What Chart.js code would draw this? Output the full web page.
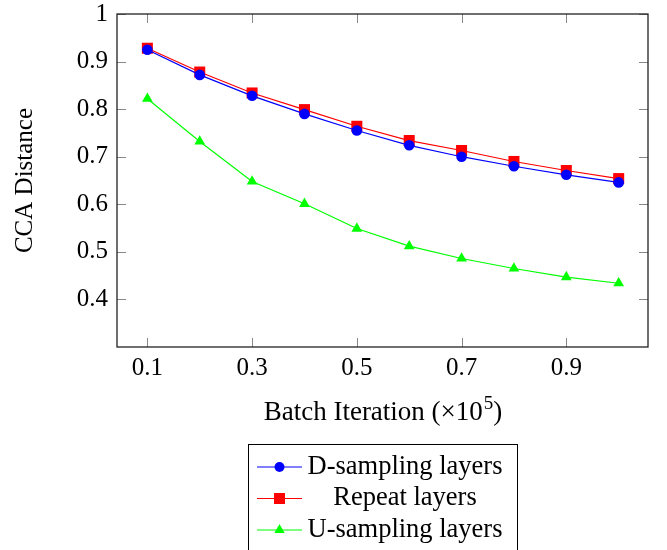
<!DOCTYPE html>
<html>
<head>
<meta charset="utf-8">
<script src="https://cdn.jsdelivr.net/npm/chart.js@4"></script>
<style>
  html, body { margin: 0; padding: 0; background: #fff; }
  #wrap { width: 667px; height: 550px; }
</style>
</head>
<body>
<div id="wrap"><canvas id="ccaChart" width="667" height="550"></canvas></div>
<script>
// Données
const xValues = [0.1, 0.2, 0.3, 0.4, 0.5, 0.6, 0.7, 0.8, 0.9, 1.0];
const dSampling = [0.925, 0.872, 0.828, 0.790, 0.755, 0.724, 0.700, 0.680, 0.662, 0.646];
const repeatLayers = [0.928, 0.878, 0.834, 0.799, 0.764, 0.734, 0.713, 0.690, 0.671, 0.654];
const uSampling = [0.822, 0.732, 0.648, 0.601, 0.549, 0.512, 0.486, 0.465, 0.447, 0.434];
const xTicks = [0.1, 0.3, 0.5, 0.7, 0.9];
const yTicks = [0.4, 0.5, 0.6, 0.7, 0.8, 0.9, 1.0];

const serif = '"Liberation Serif", "DejaVu Serif", serif';

function toPoints(ys) {
    return xValues.map((x, i) => ({x: x, y: ys[i]}));
}

// Cadre, graduations internes, titre X et légende
const framePlugin = {
    id: 'frame',
    afterDraw(chart) {
        const ctx = chart.ctx;
        const a = chart.chartArea;
        const xs = chart.scales.x, ys = chart.scales.y;
        ctx.save();
        // graduations vers l'intérieur
        ctx.strokeStyle = '#888';
        ctx.lineWidth = 1;
        ctx.beginPath();
        xTicks.forEach(v => {
            const px = Math.round(xs.getPixelForValue(v)) + 0.5;
            ctx.moveTo(px, a.top); ctx.lineTo(px, a.top + 9);
            ctx.moveTo(px, a.bottom); ctx.lineTo(px, a.bottom - 9);
        });
        yTicks.forEach(v => {
            const py = Math.round(ys.getPixelForValue(v)) + 0.5;
            ctx.moveTo(a.left, py); ctx.lineTo(a.left + 9, py);
            ctx.moveTo(a.right, py); ctx.lineTo(a.right - 9, py);
        });
        ctx.stroke();
        // cadre
        ctx.strokeStyle = '#222';
        ctx.lineWidth = 1.3;
        ctx.strokeRect(a.left, a.top, a.right - a.left, a.bottom - a.top);

        // titre de l'axe X avec exposant
        ctx.fillStyle = '#000';
        ctx.textBaseline = 'alphabetic';
        const part1 = 'Batch Iteration (\u00d710';
        ctx.font = '27px ' + serif;
        const w1 = ctx.measureText(part1).width;
        ctx.font = '19px ' + serif;
        const w2 = ctx.measureText('5').width;
        ctx.font = '27px ' + serif;
        const w3 = ctx.measureText(')').width;
        const cx = (a.left + a.right) / 2;
        const tx = cx - (w1 + w2 + w3) / 2;
        const base = 420;
        ctx.textAlign = 'left';
        ctx.fillText(part1, tx, base);
        ctx.font = '19px ' + serif;
        ctx.fillText('5', tx + w1 + 1, base - 11);
        ctx.font = '27px ' + serif;
        ctx.fillText(')', tx + w1 + w2 + 1, base);

        // légende
        const lx = 248.5, ly = 444.5, lw = 269;
        ctx.strokeStyle = '#000';
        ctx.lineWidth = 1;
        ctx.strokeRect(lx, ly, lw, 130);
        const rowY = [467, 498.5, 530];
        chart.data.datasets.forEach((ds, i) => {
            const y = rowY[i];
            ctx.strokeStyle = ds.borderColor;
            ctx.lineWidth = 1.2;
            ctx.beginPath();
            ctx.moveTo(257, y); ctx.lineTo(302, y);
            ctx.stroke();
            drawMarker(ctx, ds.pointStyle, 279.5, y, ds.backgroundColor);
            ctx.fillStyle = '#000';
            ctx.font = '26.5px ' + serif;
            ctx.textAlign = 'center';
            ctx.textBaseline = 'middle';
            ctx.fillText(ds.label, 405, y);
        });
        ctx.restore();
    }
};

function drawMarker(ctx, style, x, y, color) {
    ctx.fillStyle = color;
    ctx.beginPath();
    if (style === 'circle') {
        ctx.arc(x, y, 5, 0, Math.PI * 2);
    } else if (style === 'rect') {
        ctx.rect(x - 5.5, y - 5.5, 11, 11);
    } else {
        const r = 6;
        ctx.moveTo(x, y - r);
        ctx.lineTo(x + r * 0.866, y + r * 0.5);
        ctx.lineTo(x - r * 0.866, y + r * 0.5);
        ctx.closePath();
    }
    ctx.fill();
}

document.addEventListener('DOMContentLoaded', function() {
    const ctx = document.getElementById('ccaChart');
    new Chart(ctx, {
        type: 'scatter',
        data: {
            datasets: [{
                label: 'D-sampling layers',
                data: toPoints(dSampling),
                borderColor: '#0000ff',
                backgroundColor: '#0000ff',
                pointStyle: 'circle',
                pointRadius: 5.3,
                borderWidth: 1.2,
                pointBorderWidth: 0,
                showLine: true
            }, {
                label: 'Repeat layers',
                data: toPoints(repeatLayers),
                borderColor: '#ff0000',
                backgroundColor: '#ff0000',
                pointStyle: 'rect',
                pointRadius: 7.8,
                borderWidth: 1.2,
                pointBorderWidth: 0,
                showLine: true
            }, {
                label: 'U-sampling layers',
                data: toPoints(uSampling),
                borderColor: '#00ff00',
                backgroundColor: '#00ff00',
                pointStyle: 'triangle',
                pointRadius: 6.2,
                borderWidth: 1.2,
                pointBorderWidth: 0,
                showLine: true
            }]
        },
        options: {
            responsive: false,
            animation: false,
            devicePixelRatio: 1,
            layout: { padding: { top: 14, right: 19, left: 0, bottom: 0 } },
            plugins: {
                legend: { display: false },
                tooltip: { enabled: false }
            },
            scales: {
                x: {
                    type: 'linear',
                    min: 0.042,
                    max: 1.056,
                    afterBuildTicks: s => { s.ticks = xTicks.map(v => ({value: v})); },
                    afterFit: s => { s.height = 203; s.paddingLeft = 0; s.paddingRight = 0; },
                    grid: { display: false, drawTicks: false },
                    border: { display: false },
                    ticks: {
                        padding: 6,
                        color: '#000',
                        font: { family: serif, size: 25 },
                        maxRotation: 0,
                        callback: v => String(v)
                    }
                },
                y: {
                    min: 0.3,
                    max: 1.0,
                    afterBuildTicks: s => { s.ticks = yTicks.map(v => ({value: v})); },
                    afterFit: s => { s.width = 117; s.paddingTop = 0; s.paddingBottom = 0; },
                    grid: { display: false, drawTicks: false },
                    border: { display: false },
                    ticks: {
                        padding: 9,
                        color: '#000',
                        font: { family: serif, size: 25 },
                        callback: v => String(Number(v.toFixed(1)))
                    },
                    title: {
                        display: true,
                        text: 'CCA Distance',
                        color: '#000',
                        font: { family: serif, size: 25 },
                        padding: { top: 10, bottom: 0 }
                    }
                }
            }
        },
        plugins: [framePlugin]
    });
});
</script>
</body>
</html>
